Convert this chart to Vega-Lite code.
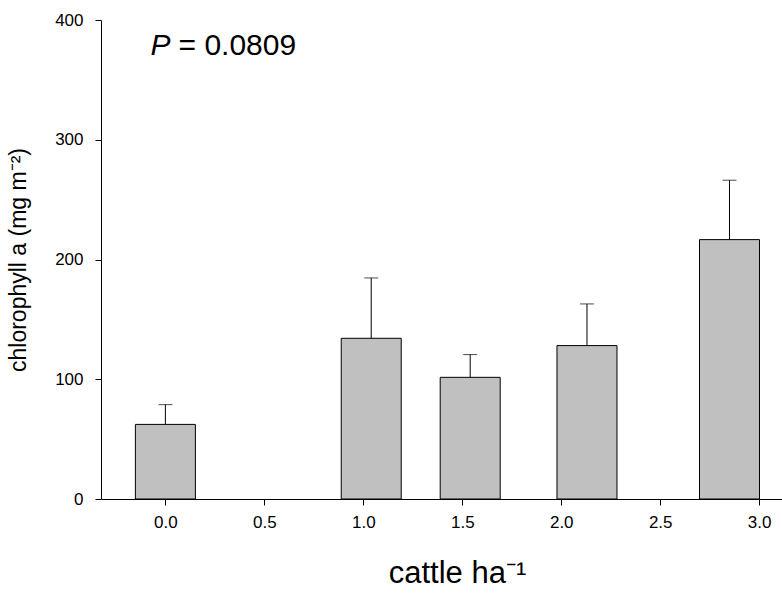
{
  "$schema": "https://vega.github.io/schema/vega-lite/v6.json",
  "width": 681,
  "height": 479,
  "autosize": {"type": "none"},
  "padding": {"left": 101, "top": 20, "right": 0, "bottom": 99},
  "background": "white",
  "config": {
    "font": "Liberation Sans",
    "view": {"stroke": null},
    "axis": {
      "grid": false,
      "domainColor": "black",
      "tickColor": "black",
      "labelColor": "black",
      "titleColor": "black",
      "titleFontWeight": "normal",
      "labelFontSize": 17,
      "tickSize": 6
    }
  },
  "datasets": {
    "chl": [
      {"cattle": 0.0, "chl": 62.3, "upper": 78.8},
      {"cattle": 1.04, "chl": 134.2, "upper": 184.6},
      {"cattle": 1.54, "chl": 101.6, "upper": 120.6},
      {"cattle": 2.13, "chl": 128.1, "upper": 162.9},
      {"cattle": 2.85, "chl": 216.6, "upper": 266.2}
    ],
    "stat": [{"p": "P", "rest": "= 0.0809"}]
  },
  "layer": [
    {
      "data": {"name": "chl"},
      "mark": {"type": "bar", "width": 60, "fill": "#c0c0c0", "stroke": "black", "strokeWidth": 1},
      "encoding": {
        "x": {
          "field": "cattle",
          "type": "quantitative",
          "scale": {"domain": [-0.3, 3.09], "nice": false, "zero": false},
          "axis": {
            "values": [0, 0.5, 1, 1.5, 2, 2.5, 3],
            "format": ".1f",
            "labelPadding": 9,
            "title": "cattle ha⁻¹",
            "titleFontSize": 31,
            "titlePadding": 28,
            "titleX": 356,
            "titleAlign": "center"
          }
        },
        "y": {
          "field": "chl",
          "type": "quantitative",
          "scale": {"domain": [0, 400], "nice": false},
          "axis": {
            "values": [0, 100, 200, 300, 400],
            "labelPadding": 12,
            "title": "chlorophyll a (mg m⁻²)",
            "titleFontSize": 23,
            "titlePadding": 24
          }
        }
      }
    },
    {
      "data": {"name": "chl"},
      "mark": {"type": "rule", "color": "black", "strokeWidth": 1},
      "encoding": {
        "x": {"field": "cattle", "type": "quantitative"},
        "y": {"field": "chl", "type": "quantitative"},
        "y2": {"field": "upper"}
      }
    },
    {
      "data": {"name": "chl"},
      "mark": {"type": "tick", "orient": "horizontal", "size": 14, "thickness": 1, "color": "black"},
      "encoding": {
        "x": {"field": "cattle", "type": "quantitative"},
        "y": {"field": "upper", "type": "quantitative"}
      }
    },
    {
      "data": {"name": "stat"},
      "mark": {"type": "text", "align": "left", "baseline": "alphabetic", "fontSize": 30, "fontStyle": "italic", "color": "black"},
      "encoding": {
        "x": {"datum": -0.075},
        "y": {"datum": 371},
        "text": {"field": "p"}
      }
    },
    {
      "data": {"name": "stat"},
      "mark": {"type": "text", "align": "left", "baseline": "alphabetic", "fontSize": 30, "dx": 28, "color": "black"},
      "encoding": {
        "x": {"datum": -0.075},
        "y": {"datum": 371},
        "text": {"field": "rest"}
      }
    }
  ]
}
